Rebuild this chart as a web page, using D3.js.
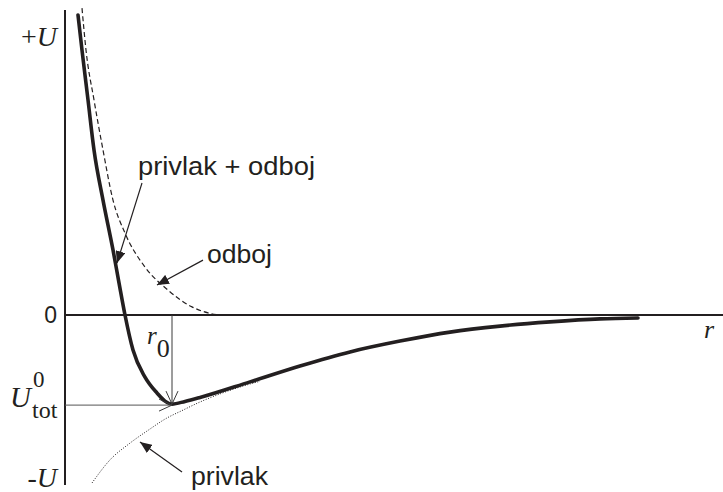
<!DOCTYPE html>
<html>
<head>
<meta charset="utf-8">
<script src="https://cdn.jsdelivr.net/npm/d3@7/dist/d3.min.js"></script>
<style>
  html, body { margin: 0; padding: 0; background: #fff; }
  svg { display: block; }
</style>
</head>
<body>
<svg id="chart" width="723" height="492"></svg>
<script>
// Interatomic potential energy U(r): total curve, repulsion and attraction
const rTotal = [0.13, 0.17, 0.23, 0.29, 0.38, 0.48, 0.54, 0.60, 0.68, 0.80, 0.92, 1.00, 1.07, 1.20, 1.35, 1.85, 2.35, 2.85, 3.35, 3.85, 4.35, 4.85, 5.35, 5.73];
const uTotal = [1.000, 0.883, 0.717, 0.550, 0.383, 0.217, 0.107, 0.000, -0.117, -0.207, -0.260, -0.287, -0.297, -0.288, -0.275, -0.223, -0.170, -0.123, -0.087, -0.057, -0.037, -0.023, -0.013, -0.010];

const rRep = [0.17, 0.21, 0.29, 0.38, 0.48, 0.60, 0.80, 1.03, 1.27, 1.43, 1.53];
const uRep = [1.023, 0.883, 0.717, 0.550, 0.383, 0.273, 0.160, 0.083, 0.027, 0.007, 0.000];

const rAttr = [0.27, 0.45, 0.65, 0.85, 1.00, 1.18, 1.35, 1.55, 1.85, 1.95];
const uAttr = [-0.560, -0.483, -0.427, -0.380, -0.347, -0.317, -0.290, -0.263, -0.230, -0.221];

// Axis extents and tick labels on the U axis
const rAxisEnd = 6.58;
const uAxisTop = 1.017;
const uAxisBottom = -0.567;
const uTickValues = [0.93, 0, -0.54];
const uTickLabels = ["+U", "0", "-U"];

// Curve labels with the point each arrow indicates
const curveLabels = [
  { text: "privlak + odboj", r: 0.73, u: 0.467, tipR: 0.52, tipU: 0.173, fromR: 0.77, fromU: 0.440, width: 177 },
  { text: "odboj",           r: 1.42, u: 0.173, tipR: 0.92, tipU: 0.100, fromR: 1.38, fromU: 0.183, width: 65 },
  { text: "privlak",         r: 1.26, u: -0.567, tipR: 0.75, tipU: -0.423, fromR: 1.17, fromU: -0.523, width: 77 }
];

const svg = d3.select("#chart");
const x = d3.scaleLinear().domain([0, rAxisEnd]).range([65, 723]);
const y = d3.scaleLinear().domain([-0.55, 1.0]).range([480, 15]);

const ink = "#231f20";
const serif = "Liberation Serif, Times New Roman, serif";
const sans = "Liberation Sans, Arial, Helvetica, sans-serif";

const defs = svg.append("defs");
defs.append("marker")
  .attr("id", "solidHead")
  .attr("viewBox", "0 0 12 10")
  .attr("refX", 12).attr("refY", 5)
  .attr("markerWidth", 12).attr("markerHeight", 10)
  .attr("markerUnits", "userSpaceOnUse")
  .attr("orient", "auto")
  .append("path").attr("d", "M0,0 L12,5 L0,10 Z").attr("fill", ink);
defs.append("marker")
  .attr("id", "openHead")
  .attr("viewBox", "0 0 14 14")
  .attr("refX", 13).attr("refY", 7)
  .attr("markerWidth", 14).attr("markerHeight", 14)
  .attr("markerUnits", "userSpaceOnUse")
  .attr("orient", "auto")
  .append("path").attr("d", "M0,1 L13,7 L0,13").attr("fill", "none")
  .attr("stroke", "#3a3a3a").attr("stroke-width", 1);

// Axes
svg.append("line")
  .attr("x1", x(0)).attr("x2", x(0))
  .attr("y1", y(uAxisTop)).attr("y2", y(uAxisBottom))
  .attr("stroke", ink).attr("stroke-width", 2);
svg.append("line")
  .attr("x1", x(0)).attr("x2", x(rAxisEnd))
  .attr("y1", y(0)).attr("y2", y(0))
  .attr("stroke", ink).attr("stroke-width", 2);

// Curves
const line = d3.line()
  .x(d => x(d[0]))
  .y(d => y(d[1]))
  .curve(d3.curveMonotoneX);

svg.append("path")
  .datum(d3.zip(rAttr, uAttr))
  .attr("d", line)
  .attr("fill", "none").attr("stroke", ink)
  .attr("stroke-width", 1).attr("stroke-dasharray", "1,1.6");

svg.append("path")
  .datum(d3.zip(rRep, uRep))
  .attr("d", line)
  .attr("fill", "none").attr("stroke", ink)
  .attr("stroke-width", 1.2).attr("stroke-dasharray", "5,3");

svg.append("path")
  .datum(d3.zip(rTotal, uTotal))
  .attr("d", line)
  .attr("fill", "none").attr("stroke", ink)
  .attr("stroke-width", 3.6).attr("stroke-linecap", "round");

// Equilibrium distance r0 and minimum energy
const iMin = d3.minIndex(uTotal);
const r0 = rTotal[iMin];
const u0 = uTotal[iMin];

svg.append("line")
  .attr("x1", x(r0)).attr("x2", x(r0))
  .attr("y1", y(0)).attr("y2", y(u0))
  .attr("stroke", "#3a3a3a").attr("stroke-width", 1)
  .attr("marker-end", "url(#openHead)");
svg.append("line")
  .attr("x1", x(0)).attr("x2", x(r0))
  .attr("y1", y(u0) + 1).attr("y2", y(u0) + 1)
  .attr("stroke", "#555").attr("stroke-width", 1)
  .attr("marker-end", "url(#openHead)");

// U axis labels
const tickG = svg.append("g");
uTickLabels.forEach((lab, i) => {
  const t = tickG.append("text")
    .attr("x", x(0) - 8)
    .attr("y", y(uTickValues[i]))
    .attr("dy", "0.35em")
    .attr("text-anchor", "end")
    .attr("fill", ink);
  if (lab === "0") {
    t.attr("font-family", sans).attr("font-size", 23).text(lab);
  } else {
    t.style("font-family", serif).attr("font-size", 28);
    t.append("tspan").text(lab.slice(0, 1));
    t.append("tspan").style("font-style", "italic").text(lab.slice(1));
  }
});

// r axis label
svg.append("text")
  .attr("x", x(rAxisEnd) - 9).attr("y", y(0) + 23)
  .attr("text-anchor", "end")
  .style("font-family", serif).style("font-style", "italic").attr("font-size", 26)
  .attr("fill", ink).text("r");

// r0 label
const r0Label = svg.append("text")
  .attr("x", x(r0) - 25).attr("y", y(0) + 29)
  .style("font-family", serif).attr("font-size", 25).attr("fill", ink);
r0Label.append("tspan").style("font-style", "italic").text("r");
r0Label.append("tspan").attr("dy", 13).attr("font-size", 26).text("0");

// U0_tot label
const uLabel = svg.append("g").attr("fill", ink).style("font-family", serif);
uLabel.append("text")
  .attr("x", 10).attr("y", y(u0) + 3)
  .style("font-style", "italic").attr("font-size", 29).text("U");
uLabel.append("text")
  .attr("x", 33).attr("y", y(u0) - 17)
  .attr("font-size", 23).text("0");
uLabel.append("text")
  .attr("x", 32).attr("y", y(u0) + 14)
  .attr("font-size", 24).text("tot");

// Curve labels and their arrows
curveLabels.forEach(d => {
  svg.append("text")
    .attr("x", x(d.r)).attr("y", y(d.u))
    .attr("font-family", sans).attr("font-size", 25)
    .attr("textLength", d.width).attr("lengthAdjust", "spacingAndGlyphs")
    .attr("fill", ink).text(d.text);
  svg.append("line")
    .attr("x1", x(d.fromR)).attr("y1", y(d.fromU))
    .attr("x2", x(d.tipR)).attr("y2", y(d.tipU))
    .attr("stroke", ink).attr("stroke-width", 1.2)
    .attr("marker-end", "url(#solidHead)");
});
</script>
</body>
</html>
